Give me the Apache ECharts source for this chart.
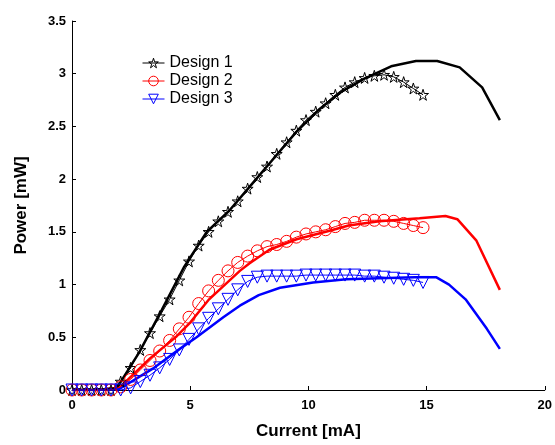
<!DOCTYPE html>
<html>
<head>
<meta charset="utf-8">
<script src="https://cdn.jsdelivr.net/npm/echarts@6/dist/echarts.min.js"></script>
<style>
  html, body { margin: 0; padding: 0; background: #fff; }
  #chart { width: 555px; height: 445px; }
</style>
</head>
<body>
<div id="chart"></div>
<script>
// measured points (markers), current in mA
const markerX = [0, 0.41, 0.83, 1.24, 1.65, 2.06, 2.48, 2.89, 3.30, 3.71, 4.13, 4.54, 4.95, 5.36, 5.78, 6.19, 6.60, 7.01, 7.43, 7.84, 8.25, 8.66, 9.08, 9.49, 9.90, 10.31, 10.73, 11.14, 11.55, 11.96, 12.38, 12.79, 13.20, 13.61, 14.03, 14.44, 14.85]
const design1Pts = [0, 0, 0, 0, 0, 0.08, 0.21, 0.38, 0.54, 0.70, 0.86, 1.04, 1.22, 1.37, 1.50, 1.60, 1.69, 1.79, 1.91, 2.02, 2.12, 2.24, 2.35, 2.46, 2.56, 2.64, 2.72, 2.80, 2.87, 2.92, 2.96, 2.98, 2.99, 2.97, 2.92, 2.86, 2.80]
const design2Pts = [0, 0, 0, 0, 0, 0.03, 0.10, 0.19, 0.28, 0.37, 0.47, 0.58, 0.69, 0.82, 0.94, 1.04, 1.13, 1.21, 1.27, 1.32, 1.36, 1.38, 1.41, 1.45, 1.48, 1.50, 1.52, 1.55, 1.58, 1.59, 1.61, 1.61, 1.61, 1.60, 1.58, 1.56, 1.54]
const design3Pts = [0, 0, 0, 0, 0, 0, 0.02, 0.08, 0.14, 0.21, 0.29, 0.38, 0.48, 0.58, 0.68, 0.77, 0.86, 0.95, 1.03, 1.07, 1.08, 1.08, 1.08, 1.08, 1.09, 1.09, 1.09, 1.09, 1.09, 1.09, 1.08, 1.08, 1.07, 1.06, 1.05, 1.04, 1.02]

// simulated curves (plain lines)
const line1X = [0, 1, 1.9, 2.85, 3.8, 4.75, 5.7, 6.65, 7.6, 8.55, 9.5, 10.45, 11.4, 12.35, 13.5, 14.55, 15.45, 16.4, 17.35, 18.1]
const line1Y = [0, 0, 0.02, 0.36, 0.76, 1.17, 1.50, 1.70, 1.95, 2.20, 2.45, 2.66, 2.83, 2.95, 3.07, 3.12, 3.12, 3.06, 2.87, 2.56]
const line2X = [0, 1, 2, 3.3, 4.43, 5.0, 5.8, 7.1, 7.5, 8.35, 9.5, 10.9, 11.7, 13, 14.7, 15.8, 16.3, 17.1, 18.1]
const line2Y = [0, 0, 0.02, 0.30, 0.51, 0.64, 0.86, 1.13, 1.20, 1.33, 1.43, 1.51, 1.56, 1.60, 1.63, 1.65, 1.62, 1.42, 0.95]
const line3X = [0, 1, 2, 3.4, 4.56, 5.27, 6.4, 7.1, 7.9, 8.8, 10.2, 11.6, 13, 14.5, 15.4, 15.95, 16.65, 17.55, 18.1]
const line3Y = [0, 0, 0.01, 0.20, 0.39, 0.50, 0.69, 0.80, 0.90, 0.97, 1.02, 1.05, 1.06, 1.07, 1.07, 1.00, 0.86, 0.58, 0.39]

const names = ['Design 1', 'Design 2', 'Design 3']
const colors = ['#000000', '#ff0000', '#0000ff']

const starPath = 'path://M50 0 L61.2 34.6 L97.6 34.5 L68.1 55.9 L79.4 90.5 L50 69 L20.6 90.5 L31.9 55.9 L2.4 34.5 L38.8 34.6 Z'
const downTri = 'path://M0 0 L100 0 L50 86.6 Z'
const symbols = [starPath, 'circle', downTri]
const symbolSizes = [11, 12, 12]

const pair = (xs, ys) => xs.map((x, i) => [x, ys[i]])

const font = '"Liberation Sans", Arial, sans-serif'

const chart = echarts.init(document.getElementById('chart'), null, { renderer: 'canvas' })

const lines = [[line1X, line1Y], [line2X, line2Y], [line3X, line3Y]]
const pts = [design1Pts, design2Pts, design3Pts]

const series = []
lines.forEach((l, i) => {
  series.push({
    name: names[i] + ' sim',
    type: 'line',
    data: pair(l[0], l[1]),
    showSymbol: false,
    symbol: 'none',
    lineStyle: { color: colors[i], width: 2.5 },
    z: 2
  })
})
pts.forEach((p, i) => {
  series.push({
    name: names[i],
    type: 'line',
    data: pair(markerX, p),
    symbol: symbols[i],
    symbolSize: symbolSizes[i],
    showAllSymbol: true,
    itemStyle: { color: 'rgba(0,0,0,0)', borderColor: colors[i], borderWidth: 1 },
    lineStyle: { color: colors[i], width: 1 },
    z: 3
  })
})

const axisCommon = {
  axisLine: { lineStyle: { color: '#000', width: 1 } },
  axisTick: { inside: true, length: 4, lineStyle: { color: '#000' } },
  splitLine: { show: false },
  axisLabel: { color: '#000', fontWeight: 'bold', fontSize: 13, fontFamily: font },
  nameTextStyle: { color: '#000', fontWeight: 'bold', fontSize: 17, fontFamily: font }
}

chart.setOption({
  animation: false,
  backgroundColor: '#fff',
  grid: { left: 72, right: 9, top: 21, bottom: 50, containLabel: false },
  legend: {
    data: names,
    orient: 'vertical',
    left: 137,
    top: 50,
    itemWidth: 22,
    itemHeight: 12,
    itemGap: 2,
    itemStyle: { color: 'rgba(0,0,0,0)', borderWidth: 1 },
    lineStyle: { width: 1 },
    textStyle: { color: '#000', fontSize: 16, fontFamily: font, lineHeight: 16 }
  },
  xAxis: Object.assign({}, axisCommon, {
    type: 'value',
    min: 0,
    max: 20,
    interval: 5,
    name: 'Current [mA]',
    nameLocation: 'middle',
    nameGap: 33,
    axisLabel: Object.assign({}, axisCommon.axisLabel, { margin: 9 })
  }),
  yAxis: Object.assign({}, axisCommon, {
    type: 'value',
    min: 0,
    max: 3.5,
    interval: 0.5,
    name: 'Power [mW]',
    nameLocation: 'middle',
    nameGap: 42,
    axisLabel: Object.assign({}, axisCommon.axisLabel, { margin: 6 })
  }),
  series: series
})
</script>
</body>
</html>
